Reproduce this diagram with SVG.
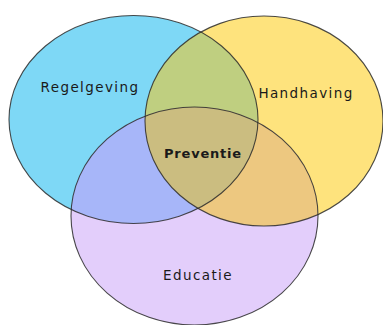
<svg xmlns="http://www.w3.org/2000/svg" width="383" height="325" viewBox="0 0 383 325">
<style>
.lbl{font-family:"DejaVu Sans","Liberation Sans",sans-serif;font-size:13.5px;fill:#1a1a1a;letter-spacing:1.4px;text-anchor:middle}
.b{font-weight:bold;font-size:13px;letter-spacing:0.8px}
.out{fill:none;stroke:#2a2a2a;stroke-width:1.1;stroke-opacity:0.85}
</style>
<defs>
<ellipse id="eB" cx="133.5" cy="119.5" rx="124.5" ry="104"/>
<ellipse id="eY" cx="264" cy="121" rx="119" ry="105"/>
<ellipse id="eP" cx="194.5" cy="216" rx="123.5" ry="109"/>
<clipPath id="cB"><use href="#eB"/></clipPath>
<clipPath id="cY"><use href="#eY"/></clipPath>
<clipPath id="cP"><use href="#eP"/></clipPath>
</defs>
<rect width="383" height="325" fill="#ffffff"/>
<g id="regelgeving">
<use href="#eB" fill="#7ed8f6"/>
</g>
<g id="handhaving">
<use href="#eY" fill="#fee37d"/>
</g>
<g id="educatie">
<use href="#eP" fill="#e3cefb"/>
</g>
<g id="overlaps">
<g clip-path="url(#cB)"><use href="#eY" fill="#bfcf80"/></g>
<g clip-path="url(#cB)"><use href="#eP" fill="#a7b6f9"/></g>
<g clip-path="url(#cY)"><use href="#eP" fill="#edc880"/></g>
<g id="preventie" clip-path="url(#cB)"><g clip-path="url(#cY)"><use href="#eP" fill="#cbbd80"/></g></g>
</g>
<g id="outlines">
<use href="#eB" class="out"/>
<use href="#eY" class="out"/>
<use href="#eP" class="out"/>
</g>
<g id="labels">
<text class="lbl" x="90" y="92">Regelgeving</text>
<text class="lbl" x="306" y="98">Handhaving</text>
<text class="lbl b" x="203" y="158">Preventie</text>
<text class="lbl" x="198" y="280">Educatie</text>
</g>
</svg>
